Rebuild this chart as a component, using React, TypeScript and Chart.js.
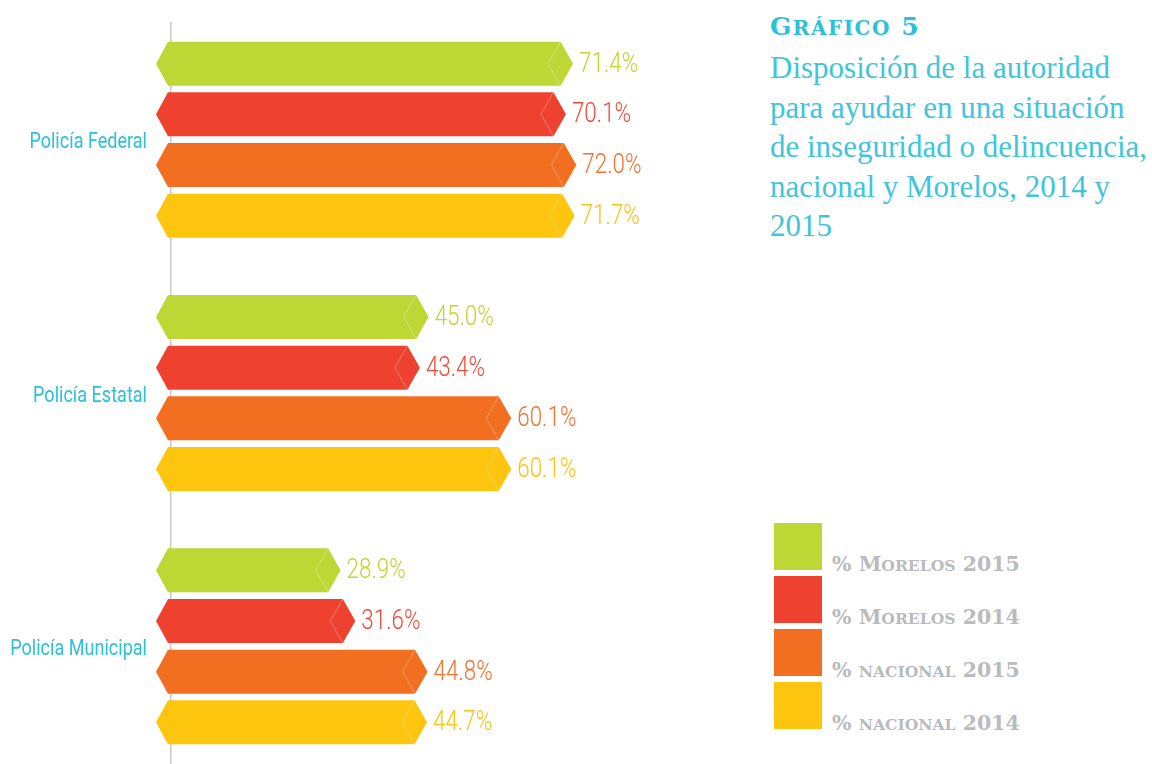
import React, { useEffect, useRef } from "react";
import { Chart, registerables } from "chart.js";

Chart.register(...registerables);

const categories = ["Policía Federal", "Policía Estatal", "Policía Municipal"];
const seriesNames = ["% Morelos 2015", "% Morelos 2014", "% nacional 2015", "% nacional 2014"];
const morelos2015 = [71.4, 45.0, 28.9];
const morelos2014 = [70.1, 43.4, 31.6];
const nacional2015 = [72.0, 60.1, 44.8];
const nacional2014 = [71.7, 60.1, 44.7];
const seriesColors = ["#BDD734", "#EE4130", "#F26F21", "#FEC50E"];
const labelColors = ["#BDD734", "#EE4A3A", "#F27030", "#FDC210"];
const titleText = "Gráfico 5";
const subtitleLines = [
  "Disposición de la autoridad",
  "para ayudar en una situación",
  "de inseguridad o delincuencia,",
  "nacional y Morelos, 2014 y",
  "2015",
];

const CYAN = "#2CC1D8";
const SANS = 'Roboto, "DejaVu Sans", sans-serif';
const SERIF = '"Liberation Serif", "DejaVu Serif", serif';
const SLAB = '"DejaVu Serif", serif';

const hexBarsPlugin = {
  id: "hexBars",
  beforeDatasetsDraw(chart: any) {
    const ctx = chart.ctx;
    const x0 = chart.scales.x.getPixelForValue(0);
    ctx.save();
    ctx.strokeStyle = "#C9C9C9";
    ctx.lineWidth = 1.5;
    ctx.beginPath();
    ctx.moveTo(x0 + 0.75, 22);
    ctx.lineTo(x0 + 0.75, chart.height);
    ctx.stroke();
    ctx.restore();
  },
  afterDatasetsDraw(chart: any) {
    const ctx = chart.ctx;
    chart.data.datasets.forEach((ds: any, i: number) => {
      const meta = chart.getDatasetMeta(i);
      meta.data.forEach((bar: any, j: number) => {
        const { x, y, base, height } = bar.getProps(["x", "y", "base", "height"], true);
        const h2 = height / 2;
        const tip = 12.5;
        ctx.save();
        ctx.fillStyle = seriesColors[i];
        ctx.beginPath();
        ctx.moveTo(base - 14, y);
        ctx.lineTo(base - 2, y - h2);
        ctx.lineTo(x, y - h2);
        ctx.lineTo(x + tip, y);
        ctx.lineTo(x, y + h2);
        ctx.lineTo(base - 2, y + h2);
        ctx.closePath();
        ctx.fill();
        ctx.strokeStyle = "rgba(255,255,255,0.45)";
        ctx.lineWidth = 0.7;
        ctx.beginPath();
        ctx.moveTo(x, y - h2);
        ctx.lineTo(x - tip, y);
        ctx.lineTo(x, y + h2);
        ctx.stroke();
        const v = ds.data[j] as number;
        ctx.translate(x + tip + 6, y + 1);
        ctx.scale(0.8, 1);
        ctx.fillStyle = labelColors[i];
        ctx.font = `300 28px ${SANS}`;
        ctx.textAlign = "left";
        ctx.textBaseline = "middle";
        ctx.fillText(v.toFixed(1) + "%", 0, 0);
        ctx.restore();
      });
    });
  },
  afterDraw(chart: any) {
    const ctx = chart.ctx;
    const ys = chart.scales.y;
    categories.forEach((c, i) => {
      const y = ys.getPixelForValue(i);
      ctx.save();
      ctx.translate(147, y + 3);
      ctx.scale(0.82, 1);
      ctx.fillStyle = CYAN;
      ctx.font = `400 22px ${SANS}`;
      ctx.textAlign = "right";
      ctx.textBaseline = "middle";
      ctx.fillText(c, 0, 0);
      ctx.restore();
    });
  },
};

function SmallCaps({ text, ratio }: { text: string; ratio: number }) {
  return (
    <>
      {text.split("").map((ch, i) =>
        ch !== ch.toUpperCase() ? (
          <span key={i} style={{ fontSize: `${ratio}em` }}>
            {ch.toUpperCase()}
          </span>
        ) : (
          <span key={i}>{ch}</span>
        )
      )}
    </>
  );
}

export default function App() {
  const canvasRef = useRef<HTMLCanvasElement | null>(null);

  useEffect(() => {
    if (!canvasRef.current) return;
    const seriesData = [morelos2015, morelos2014, nacional2015, nacional2014];
    const chart = new Chart(canvasRef.current, {
      type: "bar",
      data: {
        labels: categories,
        datasets: seriesData.map((d, i) => ({
          label: seriesNames[i],
          data: d,
          backgroundColor: "rgba(0,0,0,0)",
          borderWidth: 0,
          categoryPercentage: 0.8,
          barPercentage: 0.87,
        })),
      },
      options: {
        indexAxis: "y",
        responsive: false,
        animation: false,
        layout: { padding: { left: 0, right: 43, top: 13, bottom: 27 } },
        plugins: {
          legend: { display: false },
          tooltip: { enabled: false },
          title: { display: false },
        },
        scales: {
          x: { display: false, min: 0, max: 100 },
          y: {
            afterFit: (s: any) => {
              s.width = 170;
            },
            grid: { display: false, drawTicks: false },
            border: { display: false },
            ticks: { display: false, padding: 0 },
          },
        },
      },
      plugins: [hexBarsPlugin],
    });
    return () => chart.destroy();
  }, []);

  return (
    <div
      style={{
        position: "fixed",
        left: 0,
        top: 0,
        width: 1152,
        height: 764,
        overflow: "hidden",
        background: "#ffffff",
      }}
    >
      <canvas
        ref={canvasRef}
        width={760}
        height={800}
        style={{ position: "absolute", left: 0, top: 0, width: 760, height: 800 }}
      />
      <div
        style={{
          position: "absolute",
          left: 770,
          top: 14,
          fontFamily: SLAB,
          fontWeight: 700,
          fontSize: 25,
          letterSpacing: "1.5px",
          lineHeight: "25px",
          color: CYAN,
          whiteSpace: "nowrap",
        }}
      >
        <SmallCaps text={titleText} ratio={0.8} />
      </div>
      <div
        style={{
          position: "absolute",
          left: 770,
          top: 48,
          fontFamily: SERIF,
          fontSize: 31,
          lineHeight: "39.5px",
          color: "#40C5DB",
          whiteSpace: "nowrap",
        }}
      >
        {subtitleLines.map((l, i) => (
          <div key={i}>{l}</div>
        ))}
      </div>
      {seriesNames.map((n, i) => (
        <div key={n}>
          <div
            style={{
              position: "absolute",
              left: 774,
              top: 523 + 53 * i,
              width: 48,
              height: 47,
              background: seriesColors[i],
            }}
          />
          <div
            style={{
              position: "absolute",
              left: 832,
              top: 554 + 53 * i,
              fontFamily: SLAB,
              fontWeight: 700,
              fontSize: 20.5,
              lineHeight: "21px",
              color: "#B9BBBD",
              whiteSpace: "nowrap",
            }}
          >
            <SmallCaps text={n} ratio={0.76} />
          </div>
        </div>
      ))}
    </div>
  );
}
